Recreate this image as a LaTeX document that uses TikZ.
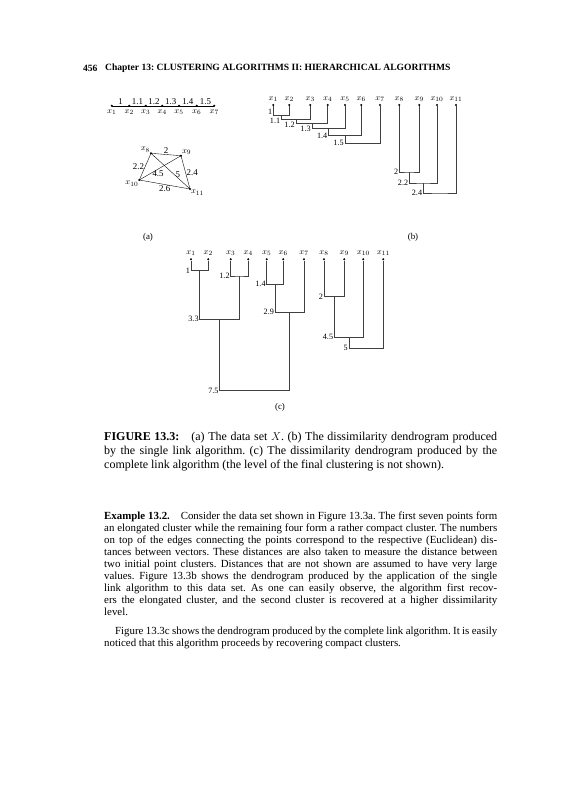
\documentclass[tikz,border=0pt]{standalone}
\usepackage{fontspec}
\setmainfont{Liberation Serif}
\usetikzlibrary{positioning}
\frenchspacing

\begin{document}
\begin{tikzpicture}[x=0.0375cm, y=-0.0375cm,
  leaf/.style={circle, fill=black, inner sep=0pt, minimum size=2.4pt},
  vlab/.style={font=\fontsize{9.5}{10}\selectfont, inner sep=1pt},
  lev/.style={font=\fontsize{8.7}{10}\selectfont, inner sep=1pt, anchor=east},
  tree/.style={black!75, line width=0.45pt},
  sub/.style={font=\fontsize{9.5}{10}\selectfont, inner sep=0pt}]
\useasboundingbox (0,0) rectangle (561,800);

% Testatina
\node[anchor=west, inner sep=0pt, font=\bfseries\fontsize{10.2}{12}\selectfont] (pag) at (83,68) {456};
\node[anchor=west, inner sep=0pt, font=\bfseries\fontsize{10.2}{12}\selectfont] (testa) at (105,68) {Chapter 13: CLUSTERING ALGORITHMS II: HIERARCHICAL ALGORITHMS};

% (a) catena x1..x7
\foreach \i/\x in {1/111.7, 2/129.3, 3/145.7, 4/162.3, 5/179, 6/196.7, 7/214.3}{
    \node[leaf] (a\i) at (\x,105.7) {};
    \node[vlab, below=1.5pt of a\i] (la\i) {$x_{\i}$};
}
\foreach \i/\j/\d in {1/2/1, 2/3/1.1, 3/4/1.2, 4/5/1.3, 5/6/1.4, 6/7/1.5}{
    \draw (a\i.center) -- node[vlab, above] (ea\i) {\d} (a\j.center);
}

% (a) gruppo compatto x8..x11
\node[leaf] (a8) at (151,153.3) {};
\node[leaf] (a9) at (181,155.7) {};
\node[leaf] (a10) at (139.3,180) {};
\node[leaf] (a11) at (190,189) {};
\node[vlab, above left=-1.5pt of a8] (la8) {$x_8$};
\node[vlab, above right=-1.5pt of a9] (la9) {$x_9$};
\node[vlab, below left=-1.5pt of a10] (la10) {$x_{10}$};
\node[vlab, below right=-1.5pt of a11] (la11) {$x_{11}$};
\draw (a8.center) -- node[vlab, above] (e89) {2} (a9.center);
\draw (a8.center) -- node[vlab, left] (e810) {2.2} (a10.center);
\draw (a8.center) -- node[vlab, right, pos=0.6] (e811) {5} (a11.center);
\draw (a9.center) -- node[vlab, below, pos=0.55] (e910) {4.5} (a10.center);
\draw (a9.center) -- node[vlab, right] (e911) {2.4} (a11.center);
\draw (a10.center) -- node[vlab, below] (e1011) {2.6} (a11.center);
\node[sub] (capa) at (148,237) {(a)};

% (b) dendrogramma single link
\foreach \i/\x in {1/273.3, 2/289.3, 3/310.3, 4/327.7, 5/345, 6/361.3, 7/380, 8/399.3, 9/419.3, 10/437, 11/456}{
    \node[leaf] (b\i) at (\x,105) {};
    \node[vlab, above=1pt of b\i] (lb\i) {$x_{\i}$};
}
\coordinate (bm1) at (281.3,115.7);
\coordinate (bm2) at (295.8,119.5);
\coordinate (bm3) at (311.8,123.5);
\coordinate (bm4) at (328.4,128.5);
\coordinate (bm5) at (344.8,135.5);
\coordinate (bm6) at (362.4,143.3);
\coordinate (bm7) at (409.3,172);
\coordinate (bm8) at (423.2,183);
\coordinate (bm9) at (439.6,193);
\draw[tree] (b1) |- (bm1) -| (b2);
\draw[tree] (bm1) |- (bm2) -| (b3);
\draw[tree] (bm2) |- (bm3) -| (b4);
\draw[tree] (bm3) |- (bm4) -| (b5);
\draw[tree] (bm4) |- (bm5) -| (b6);
\draw[tree] (bm5) |- (bm6) -| (b7);
\draw[tree] (b8) |- (bm7) -| (b9);
\draw[tree] (bm7) |- (bm8) -| (b10);
\draw[tree] (bm8) |- (bm9) -| (b11);
\node[lev, anchor=south east] (bl1) at (b1 |- bm1) {1};
\node[lev, yshift=-1pt] (bl2) at (bm1 |- bm2) {1.1};
\node[lev, yshift=-1pt] (bl3) at (bm2 |- bm3) {1.2};
\node[lev] (bl4) at (bm3 |- bm4) {1.3};
\node[lev] (bl5) at (bm4 |- bm5) {1.4};
\node[lev] (bl6) at (bm5 |- bm6) {1.5};
\node[lev] (bl7) at (b8 |- bm7) {2};
\node[lev] (bl8) at (bm7 |- bm8) {2.2};
\node[lev] (bl9) at (bm8 |- bm9) {2.4};
\node[sub] (capb) at (413,237) {(b)};

% (c) dendrogramma complete link
\foreach \i/\x in {1/191, 2/208.3, 3/230.7, 4/248.3, 5/266.7, 6/283.3, 7/304, 8/324, 9/344.3, 10/363.3, 11/383.3}{
    \node[leaf] (c\i) at (\x,259.3) {};
    \node[vlab, above=1pt of c\i] (lc\i) {$x_{\i}$};
}
\coordinate (cm1) at (199.7,270.7);
\coordinate (cm2) at (239.5,276);
\coordinate (cm3) at (275,284.3);
\coordinate (cm4) at (334.2,296.7);
\coordinate (cm5) at (289.5,312.3);
\coordinate (cm6) at (219.6,319.3);
\coordinate (cm7) at (348.8,337.3);
\coordinate (cm8) at (366,348.3);
\coordinate (cm9) at (254.6,390.7);
\draw[tree] (c1) |- (cm1) -| (c2);
\draw[tree] (c3) |- (cm2) -| (c4);
\draw[tree] (c5) |- (cm3) -| (c6);
\draw[tree] (c8) |- (cm4) -| (c9);
\draw[tree] (cm3) |- (cm5) -| (c7);
\draw[tree] (cm1) |- (cm6) -| (cm2);
\draw[tree] (cm4) |- (cm7) -| (c10);
\draw[tree] (cm7) |- (cm8) -| (c11);
\draw[tree] (cm6) |- (cm9) -| (cm5);
\node[lev] (cl1) at (c1 |- cm1) {1};
\node[lev] (cl2) at (c3 |- cm2) {1.2};
\node[lev] (cl3) at (c5 |- cm3) {1.4};
\node[lev] (cl4) at (c8 |- cm4) {2};
\node[lev] (cl5) at (cm3 |- cm5) {2.9};
\node[lev] (cl6) at (cm1 |- cm6) {3.3};
\node[lev] (cl7) at (cm4 |- cm7) {4.5};
\node[lev] (cl8) at (cm7 |- cm8) {5};
\node[lev] (cl9) at (cm6 |- cm9) {7.5};
\node[sub] (capc) at (280,407) {(c)};

% Didascalia
\node[anchor=north west, inner sep=0pt, text width=14.74cm, align=justify,
      font=\fontsize{12.8}{14.9}\selectfont] (didascalia) at (104,432)
  {\textbf{FIGURE 13.3:}\quad (a) The data set $X$. (b) The dissimilarity dendrogram produced\linebreak
   by the single link algorithm. (c) The dissimilarity dendrogram produced by the\linebreak
   complete link algorithm (the level of the final clustering is not shown).};

% Testo dell'esempio
\node[anchor=north west, inner sep=0pt, text width=14.74cm, align=justify,
      font=\fontsize{11.6}{12.8}\selectfont] (esempio) at (104,512)
  {\textbf{Example 13.2.}\quad Consider the data set shown in Figure 13.3a. The first seven points form\linebreak
   an elongated cluster while the remaining four form a rather compact cluster. The numbers\linebreak
   on top of the edges connecting the points correspond to the respective (Euclidean) dis-\linebreak
   tances between vectors. These distances are also taken to measure the distance between\linebreak
   two initial point clusters. Distances that are not shown are assumed to have very large\linebreak
   values. Figure 13.3b shows the dendrogram produced by the application of the single\linebreak
   link algorithm to this data set. As one can easily observe, the algorithm first recov-\linebreak
   ers the elongated cluster, and the second cluster is recovered at a higher dissimilarity\linebreak
   level.\par\vspace{0.26cm}
   \hspace*{0.41cm}Figure 13.3c shows the dendrogram produced by the complete link algorithm. It is easily\linebreak
   noticed that this algorithm proceeds by recovering compact clusters.};
\end{tikzpicture}
\end{document}
